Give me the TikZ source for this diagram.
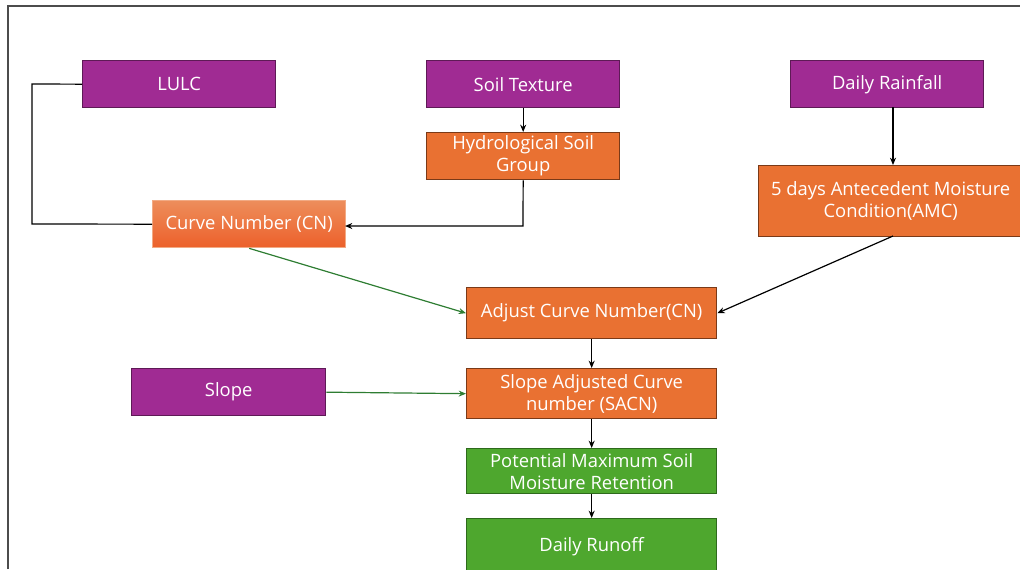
\documentclass[tikz,border=0pt]{standalone}
\usepackage{fontspec}
\usetikzlibrary{arrows.meta}
\setmainfont{Open Sans}
\definecolor{purp}{HTML}{A02B93}
\definecolor{purpb}{HTML}{5E1A56}
\definecolor{orng}{HTML}{E97132}
\definecolor{orngb}{HTML}{7A3A18}
\definecolor{grn}{HTML}{4EA72E}
\definecolor{grnb}{HTML}{2E6A1C}
\definecolor{lgrn}{HTML}{2E7D32}
\begin{document}
\begin{tikzpicture}[x=0.75pt,y=-0.75pt,
  box/.style={draw, line width=1pt, text=white, align=center, inner sep=0pt, font=\fontsize{13.8}{16.5}\selectfont, anchor=north west},
  pbox/.style={box, fill=purp, draw=purpb},
  obox/.style={box, fill=orng, draw=orngb},
  gbox/.style={box, fill=grn, draw=grnb},
  arr/.style={-{Stealth[length=5.5pt,width=4.5pt]}, line width=0.9pt, black},
  garr/.style={arr, lgrn},
  ln/.style={line width=0.9pt, black}]
\useasboundingbox (0,0) rectangle (1020,569);
\draw[line width=0.9pt, black!70] (8,569) -- (8,6) -- (1020,6);
\node[pbox, minimum width=193*0.75pt, minimum height=47*0.75pt] (lulc) at (82,60) {LULC};
\node[pbox, minimum width=193*0.75pt, minimum height=47*0.75pt] (soil) at (426,60) {Soil Texture};
\node[pbox, minimum width=193*0.75pt, minimum height=47*0.75pt] (rain) at (790,60) {Daily Rainfall};
\node[obox, minimum width=193*0.75pt, minimum height=47*0.75pt] (hsg) at (426,132) {Hydrological Soil\\Group};
\node[box, draw=orng!60, top color=orng!80!white, bottom color=orng!85!red, minimum width=193*0.75pt, minimum height=47*0.75pt] (cn) at (152,200) {Curve Number (CN)};
\node[obox, minimum width=264*0.75pt, minimum height=71*0.75pt] (amc) at (758,165) {5 days Antecedent Moisture\\Condition(AMC)};
\node[obox, minimum width=250*0.75pt, minimum height=51*0.75pt] (adj) at (466,287) {Adjust Curve Number(CN)};
\node[pbox, minimum width=194*0.75pt, minimum height=47*0.75pt] (slope) at (131,368) {Slope};
\node[obox, minimum width=250*0.75pt, minimum height=50*0.75pt] (sacn) at (466,368) {Slope Adjusted Curve\\number (SACN)};
\node[gbox, minimum width=250*0.75pt, minimum height=45*0.75pt] (pms) at (466,448) {Potential Maximum Soil\\Moisture Retention};
\node[gbox, minimum width=250*0.75pt, minimum height=56*0.75pt] (run) at (466,518) {Daily Runoff};
\coordinate (c1) at (32,84);
\coordinate (c2) at (32,224);
\draw[ln] (lulc.west) -- (c1) -- (c2) -- (cn.west);
\draw[arr] (soil.south) -- (hsg.north);
\coordinate (c3) at (523,226);
\coordinate (c4) at (345,226);
\draw[arr] (hsg.south) -- (c3) -- (c4);
\coordinate (r1) at (893,107);
\coordinate (r2) at (893,165);
\draw[arr] (r1) -- (r2);
\coordinate (a1) at (893,236);
\draw[arr] (a1) -- (adj.east);
\draw[garr] (cn.south) -- (adj.west);
\draw[arr] (adj.south) -- (sacn.north);
\draw[garr] (slope.east) -- (sacn.west);
\draw[arr] (sacn.south) -- (pms.north);
\draw[arr] (pms.south) -- (run.north);
\end{tikzpicture}
\end{document}
